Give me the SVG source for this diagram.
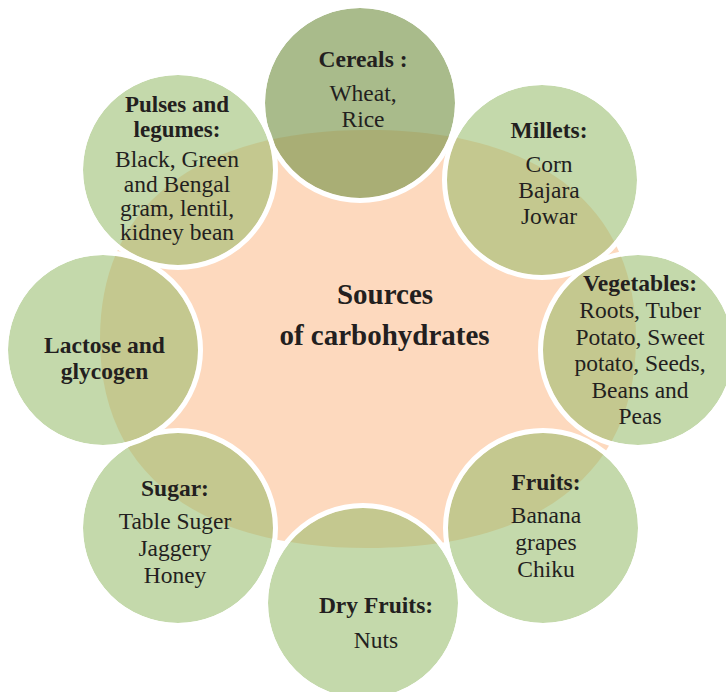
<svg xmlns="http://www.w3.org/2000/svg" width="726" height="692" viewBox="0 0 726 692">
<style>
.bg{fill:#fdd9be}
.g{fill:#c4d9ab}
.o{fill:#c4c88f}
.gc{fill:#a9bb8b}
.oc{fill:#a9ae75}
.ring{fill:none;stroke:#ffffff;stroke-width:5}
text{font-family:"Liberation Serif","Times New Roman",serif;fill:#231f20;text-anchor:middle;font-size:23.5px}
.h{font-weight:bold}
.hs{font-weight:bold;font-size:23px}
.c{font-weight:bold;font-size:29px}
</style>
<defs>
<clipPath id="blob"><path d="M 636,339 C 636,472.8 539.5,548 368,548 C 196.5,548 100,472.8 100,339 C 100,205.2 196.5,130 368,130 C 539.5,130 636,205.2 636,339 Z"/></clipPath>
</defs>
<g id="center">
<path class="bg" d="M 636,339 C 636,472.8 539.5,548 368,548 C 196.5,548 100,472.8 100,339 C 100,205.2 196.5,130 368,130 C 539.5,130 636,205.2 636,339 Z"/>
<text class="c" x="385" y="304">Sources</text>
<text class="c" x="384.5" y="345">of carbohydrates</text>
</g>
<g id="connectors"></g>
<g id="cereals">
<circle class="gc" cx="360" cy="103" r="95"/>
<circle class="oc" cx="360" cy="103" r="95" clip-path="url(#blob)"/>
<circle class="ring" cx="360" cy="103" r="97.5"/>
<text class="h" x="363" y="67">Cereals :</text>
<text x="363" y="101">Wheat,</text>
<text x="363" y="127">Rice</text>
</g>
<g id="millets">
<circle class="g" cx="542" cy="180" r="95"/>
<circle class="o" cx="542" cy="180" r="95" clip-path="url(#blob)"/>
<circle class="ring" cx="542" cy="180" r="97.5"/>
<text class="h" x="549" y="138">Millets:</text>
<text x="549" y="172">Corn</text>
<text x="549" y="198">Bajara</text>
<text x="549" y="224">Jowar</text>
</g>
<g id="vegetables">
<circle class="g" cx="638" cy="350" r="95"/>
<circle class="o" cx="638" cy="350" r="95" clip-path="url(#blob)"/>
<circle class="ring" cx="638" cy="350" r="97.5"/>
<text class="h" x="640" y="291">Vegetables:</text>
<text x="640" y="318">Roots, Tuber</text>
<text x="640" y="344.5">Potato, Sweet</text>
<text x="640" y="371">potato, Seeds,</text>
<text x="640" y="397.5">Beans and</text>
<text x="640" y="424">Peas</text>
</g>
<g id="fruits">
<circle class="g" cx="543" cy="528" r="95"/>
<circle class="o" cx="543" cy="528" r="95" clip-path="url(#blob)"/>
<circle class="ring" cx="543" cy="528" r="97.5"/>
<text class="h" x="546" y="490">Fruits:</text>
<text x="546" y="523">Banana</text>
<text x="546" y="550">grapes</text>
<text x="546" y="577">Chiku</text>
</g>
<g id="dryfruits">
<circle class="g" cx="363" cy="603" r="95"/>
<circle class="o" cx="363" cy="603" r="95" clip-path="url(#blob)"/>
<circle class="ring" cx="363" cy="603" r="97.5"/>
<text class="h" x="376" y="613">Dry Fruits:</text>
<text x="376" y="648">Nuts</text>
</g>
<g id="sugar">
<circle class="g" cx="178" cy="528" r="95"/>
<circle class="o" cx="178" cy="528" r="95" clip-path="url(#blob)"/>
<circle class="ring" cx="178" cy="528" r="97.5"/>
<text class="h" x="175" y="496">Sugar:</text>
<text x="175" y="529">Table Suger</text>
<text x="175" y="556">Jaggery</text>
<text x="175" y="583">Honey</text>
</g>
<g id="lactose">
<circle class="g" cx="103" cy="350" r="95"/>
<circle class="o" cx="103" cy="350" r="95" clip-path="url(#blob)"/>
<circle class="ring" cx="103" cy="350" r="97.5"/>
<text class="h" x="104.5" y="353">Lactose and</text>
<text class="h" x="104.5" y="379">glycogen</text>
</g>
<g id="pulses">
<circle class="g" cx="178" cy="170" r="95"/>
<circle class="o" cx="178" cy="170" r="95" clip-path="url(#blob)"/>
<circle class="ring" cx="178" cy="170" r="97.5"/>
<text class="hs" x="177" y="112">Pulses and</text>
<text class="hs" x="177" y="137">legumes:</text>
<text x="177" y="167">Black, Green</text>
<text x="177" y="192">and Bengal</text>
<text x="177" y="216">gram, lentil,</text>
<text x="177" y="240">kidney bean</text>
</g>
</svg>
